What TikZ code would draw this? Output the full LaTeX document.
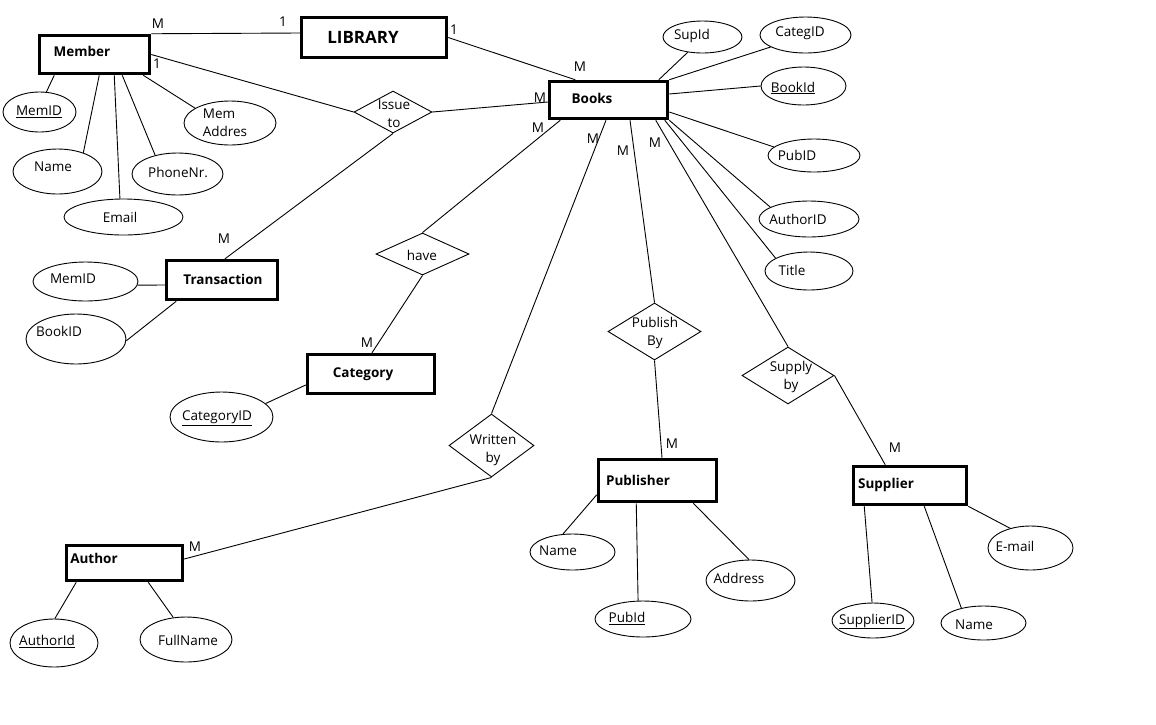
\documentclass[tikz,border=0pt]{standalone}
\usepackage{fontspec}
\setmainfont{Open Sans}
\usetikzlibrary{shapes.geometric}
\newcommand{\erfs}{\fontsize{13.5}{18}\selectfont}
\newcommand{\erbig}{\fontsize{17}{20}\selectfont\bfseries}
\begin{document}
\begin{tikzpicture}[x=1pt,y=-1pt,
  every node/.style={font=\erfs, text=black},
  entity/.style={draw, rectangle, line width=3.5pt, inner sep=0pt},
  etext/.style={inner sep=0pt, font=\erfs\bfseries},
  attr/.style={draw, ellipse, line width=0.9pt, inner sep=0pt},
  rel/.style={draw, diamond, line width=0.9pt, inner sep=0pt},
  ltext/.style={inner sep=0pt, align=center},
  conn/.style={line width=0.9pt},
  card/.style={inner sep=0pt}]
\useasboundingbox (0,0) rectangle (1156,724);

% entities
\node[entity, minimum width=145pt, minimum height=40pt, label={[etext, font=\erbig, xshift=-11pt, yshift=0.5pt]center:LIBRARY}] (library) at (374,37.5) {};
\node[entity, minimum width=110pt, minimum height=38pt, label={[etext, xshift=-12.5pt, yshift=3.5pt]center:Member}] (member) at (94.5,54.5) {};
\node[entity, minimum width=118pt, minimum height=37pt, label={[etext, xshift=-16.5pt, yshift=1.5pt]center:Books}] (books) at (608.5,100) {};
\node[entity, minimum width=111pt, minimum height=39pt, label={[etext, xshift=1pt, yshift=0.5pt]center:Transaction}] (transaction) at (222,280) {};
\node[entity, minimum width=127pt, minimum height=39pt, label={[etext, xshift=-8pt, yshift=0pt]center:Category}] (category) at (371,374) {};
\node[entity, minimum width=118pt, minimum height=42pt, label={[etext, xshift=-19.5pt, yshift=0.5pt]center:Publisher}] (publisher) at (657.5,480.5) {};
\node[entity, minimum width=113pt, minimum height=38pt, label={[etext, xshift=-24pt, yshift=0.5pt]center:Supplier}] (supplier) at (910,485.5) {};
\node[entity, minimum width=116pt, minimum height=35pt, label={[etext, xshift=-30.5pt, yshift=4.5pt]center:Author}] (author) at (124.5,563) {};

% relationships
\node[rel, minimum width=78pt, minimum height=42pt, label={[ltext, xshift=1pt, yshift=-1.5pt]center:{Issue\\to}}] (issue) at (393,112) {};
\node[rel, minimum width=93pt, minimum height=42pt, label={[ltext, xshift=-0.5pt, yshift=-1pt]center:have}] (have) at (422.5,254) {};
\node[rel, minimum width=93pt, minimum height=57pt, label={[ltext, xshift=0.5pt, yshift=-1.5pt]center:{Publish\\By}}] (publish) at (654.5,331.5) {};
\node[rel, minimum width=92pt, minimum height=57pt, label={[ltext, xshift=3pt, yshift=-1.5pt]center:{Supply\\by}}] (supply) at (788,375.5) {};
\node[rel, minimum width=85pt, minimum height=63pt, label={[ltext, xshift=1.5pt, yshift=-4.5pt]center:{Written\\by}}] (written) at (491.5,445.5) {};

% attributes of Member
\node[attr, minimum width=73pt, minimum height=40pt, label={[ltext, xshift=-0.5pt]center:\underline{MemID}}] (memid) at (39.5,112) {};
\node[attr, minimum width=89pt, minimum height=45pt, label={[ltext, xshift=-4.5pt, yshift=5pt]center:Name}] (mname) at (57.5,171.5) {};
\node[attr, minimum width=119pt, minimum height=36pt, label={[ltext, xshift=-3.5pt]center:Email}] (memail) at (123.5,217) {};
\node[attr, minimum width=91pt, minimum height=42pt, label={[ltext, xshift=0.5pt, yshift=1.5pt]center:PhoneNr.}] (phone) at (177.5,174) {};
\node[attr, minimum width=92pt, minimum height=44pt, label={[inner sep=0pt, align=left, xshift=-5pt, yshift=0pt]center:{Mem\\Addres}}] (addr) at (230,123) {};

% attributes of Books
\node[attr, minimum width=79pt, minimum height=32pt, label={[ltext, xshift=-10.5pt, yshift=1pt]center:SupId}] (supid) at (702.5,37) {};
\node[attr, minimum width=91pt, minimum height=36pt, label={[ltext, xshift=-5.5pt, yshift=1.5pt]center:CategID}] (categid) at (805.5,35) {};
\node[attr, minimum width=85pt, minimum height=38pt, label={[ltext, xshift=-10.5pt, yshift=-2pt]center:\underline{BookId}}] (bookid) at (803.5,86) {};
\node[attr, minimum width=92pt, minimum height=33pt, label={[ltext, xshift=-17pt, yshift=0pt]center:PubID}] (pubid) at (814,155.5) {};
\node[attr, minimum width=100pt, minimum height=36pt, label={[ltext, xshift=-11pt]center:AuthorID}] (authorid) at (809,219) {};
\node[attr, minimum width=88pt, minimum height=38pt, label={[ltext, xshift=-17pt, yshift=1pt]center:Title}] (title) at (809,271) {};

% attributes of Transaction
\node[attr, minimum width=105pt, minimum height=39pt, label={[ltext, xshift=-12.5pt, yshift=3pt]center:MemID}] (tmemid) at (85.5,281.5) {};
\node[attr, minimum width=100pt, minimum height=50pt, label={[ltext, xshift=-17pt, yshift=7.5pt]center:BookID}] (tbookid) at (76,339) {};

% attribute of Category
\node[attr, minimum width=103pt, minimum height=50pt, label={[ltext, xshift=-4.5pt, yshift=-1pt]center:\underline{CategoryID}}] (catid) at (221.5,417) {};

% attributes of Author
\node[attr, minimum width=88pt, minimum height=48pt, label={[ltext, xshift=-7pt, yshift=1.5pt]center:\underline{AuthorId}}] (authid) at (54,643) {};
\node[attr, minimum width=92pt, minimum height=45pt, label={[ltext, xshift=2pt, yshift=-0.5pt]center:FullName}] (fullname) at (186,639.5) {};

% attributes of Publisher
\node[attr, minimum width=85pt, minimum height=36pt, label={[ltext, xshift=-14.5pt, yshift=1.5pt]center:Name}] (pname) at (572.5,552) {};
\node[attr, minimum width=96pt, minimum height=36pt, label={[ltext, xshift=-16pt, yshift=0.5pt]center:\underline{PubId}}] (ppubid) at (643,619) {};
\node[attr, minimum width=89pt, minimum height=41pt, label={[ltext, xshift=-11.5pt, yshift=2pt]center:Address}] (paddr) at (750.5,580.5) {};

% attributes of Supplier
\node[attr, minimum width=82pt, minimum height=35pt, label={[ltext, xshift=-1pt, yshift=-1pt]center:\underline{SupplierID}}] (supplierid) at (873,620.5) {};
\node[attr, minimum width=85pt, minimum height=34pt, label={[ltext, xshift=-9.5pt, yshift=-2pt]center:Name}] (sname) at (983.5,623) {};
\node[attr, minimum width=85pt, minimum height=44pt, label={[ltext, xshift=-15.5pt, yshift=1.5pt]center:E-mail}] (semail) at (1030.5,548) {};

% cardinality labels
\node[card] (c1) at (158,24) {M};
\node[card] (c2) at (283,22) {1};
\node[card] (c3) at (157,64) {1};
\node[card] (c4) at (454,30) {1};
\node[card] (c5) at (580,67) {M};
\node[card] (c6) at (540,98) {M};
\node[card] (c7) at (538,128) {M};
\node[card] (c8) at (593,139) {M};
\node[card] (c9) at (623,151) {M};
\node[card] (c10) at (655,143) {M};
\node[card] (c11) at (224,239) {M};
\node[card] (c12) at (367,343) {M};
\node[card] (c13) at (672,444) {M};
\node[card] (c14) at (895,448) {M};
\node[card] (c15) at (195,547) {M};

% relationship connectors
\draw[conn] (member.north east) -- ([yshift=4.5pt]library.west);
\draw[conn] (library.east) -- ([xshift=27.5pt]books.north west);
\draw[conn] (member.east) -- (issue.west);
\draw[conn] (issue.east) -- ([yshift=-2pt]books.west);
\draw[conn] (issue.south) -- ([xshift=3pt]transaction.north);
\draw[conn] (have.north) -- ([xshift=12.5pt]books.south west);
\draw[conn] (have.south) -- ([xshift=1pt]category.north);
\draw[conn] (written.north) -- ([xshift=-2.5pt]books.south);
\draw[conn] (written.south) -- ([yshift=4pt]author.east);
\draw[conn] (publish.north) -- ([xshift=21.5pt]books.south);
\draw[conn] (publish.south) -- ([xshift=4.5pt]publisher.north);
\draw[conn] (supply.north) -- ([xshift=-13.5pt]books.south east);
\draw[conn] (supply.east) -- ([xshift=33.5pt]supplier.north west);

% attribute connectors
\draw[conn] ([xshift=16.5pt]member.south west) -- (memid.71);
\draw[conn] ([xshift=61.5pt]member.south west) -- (mname.36);
\draw[conn] ([xshift=76.5pt]member.south west) -- (memail.101);
\draw[conn] ([xshift=84.5pt]member.south west) -- (phone.140);
\draw[conn] ([xshift=105.5pt]member.south west) -- (addr.157);

\draw[conn] ([xshift=-10.5pt]books.north east) -- (supid.226);
\draw[conn] (books.north east) -- (categid.199);
\draw[conn] ([yshift=6pt]books.east) -- (bookid.180);
\draw[conn] ([yshift=-12pt]books.east) -- (pubid.168);
\draw[conn] (books.south east) -- (authorid.163);
\draw[conn] ([xshift=-4.5pt]books.south east) -- (title.159);

\draw[conn] (tmemid.-4) -- ([yshift=-5pt]transaction.west);
\draw[conn] (tbookid.-2) -- ([xshift=11.5pt]transaction.south west);

\draw[conn] (catid.17) -- ([yshift=-11pt]category.west);

\draw[conn] ([xshift=11.5pt]author.south west) -- (authid.88);
\draw[conn] ([xshift=83.5pt]author.south west) -- (fullname.120);

\draw[conn] ([yshift=8.5pt]publisher.south west) -- (pname.118);
\draw[conn] ([xshift=39.5pt]publisher.south west) -- (ppubid.105);
\draw[conn] ([xshift=96.5pt]publisher.south west) -- (paddr.94);

\draw[conn] ([xshift=12.5pt]supplier.south west) -- (supplierid.93);
\draw[conn] ([xshift=72.5pt]supplier.south west) -- (sname.146);
\draw[conn] (supplier.south east) -- (semail.136);
\end{tikzpicture}
\end{document}
